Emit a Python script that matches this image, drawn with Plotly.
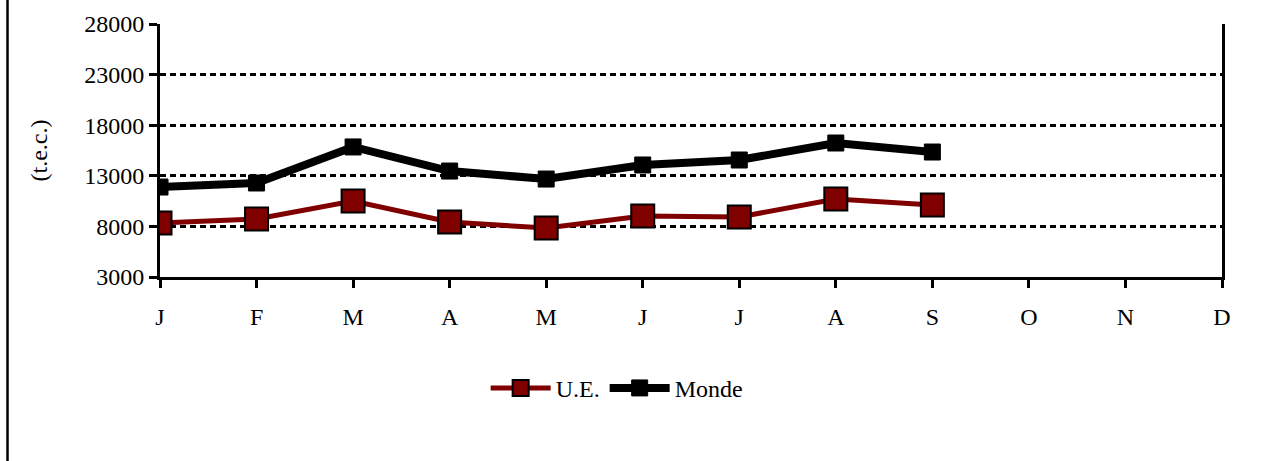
import plotly.graph_objects as go

months = ["J", "F", "M", "A", "M", "J", "J", "A", "S", "O", "N", "D"]
ue = [8340, 8730, 10510, 8430, 7840, 9030, 8930, 10710, 10110]
monde = [11890, 12290, 15850, 13470, 12680, 14070, 14560, 16240, 15350]

font_family = "Liberation Serif"

fig = go.Figure()
fig.add_trace(go.Scatter(
    x=list(range(len(ue))), y=ue, name="U.E.", mode="lines+markers",
    line=dict(color="#800000", width=5),
    marker=dict(symbol="square", size=23, color="#800000",
                line=dict(color="black", width=2)),
))
fig.add_trace(go.Scatter(
    x=list(range(len(monde))), y=monde, name="Monde", mode="lines+markers",
    line=dict(color="black", width=8),
    marker=dict(symbol="square", size=16, color="black",
                line=dict(color="black", width=1)),
))

fig.update_layout(
    width=1284, height=461,
    margin=dict(l=160, r=62, t=24, b=184),
    paper_bgcolor="white", plot_bgcolor="white",
    font=dict(family=font_family, size=24, color="black"),
    showlegend=True,
    legend=dict(orientation="h", x=0.43, xanchor="center", y=-0.44,
                yanchor="middle", itemwidth=60,
                font=dict(family=font_family, size=24, color="black")),
    xaxis=dict(
        range=[0, 11], tickmode="array", tickvals=list(range(12)),
        ticktext=months, showgrid=False, zeroline=False,
        showline=True, linecolor="black", linewidth=3,
        ticks="outside", ticklen=8, tickwidth=3, tickcolor="black",
        ticklabelstandoff=8,
        tickfont=dict(size=24),
    ),
    yaxis=dict(
        range=[3000, 28000], tickmode="array",
        tickvals=[3000, 8000, 13000, 18000, 23000, 28000],
        ticktext=["3000", "8000", "13000", "18000", "23000", "28000"],
        showgrid=True, gridcolor="black", gridwidth=2.5, griddash="6px,4px",
        zeroline=False, showline=True, linecolor="black", linewidth=3,
        mirror=True,
        ticks="outside", ticklen=8, tickwidth=3, tickcolor="black",
        tickfont=dict(size=24),
        title=dict(text="(t.e.c.)", font=dict(size=24), standoff=30),
    ),
)

fig.add_shape(type="line", xref="paper", yref="paper",
              x0=(7.5 - 160) / 1062, x1=(7.5 - 160) / 1062,
              y0=(277 - 0) / 253, y1=(277 - 461) / 253,
              line=dict(color="black", width=2.5))

fig.write_html("out.html", config={"displayModeBar": False},
               post_script="document.body.style.margin='0';document.body.style.overflow='hidden';")
